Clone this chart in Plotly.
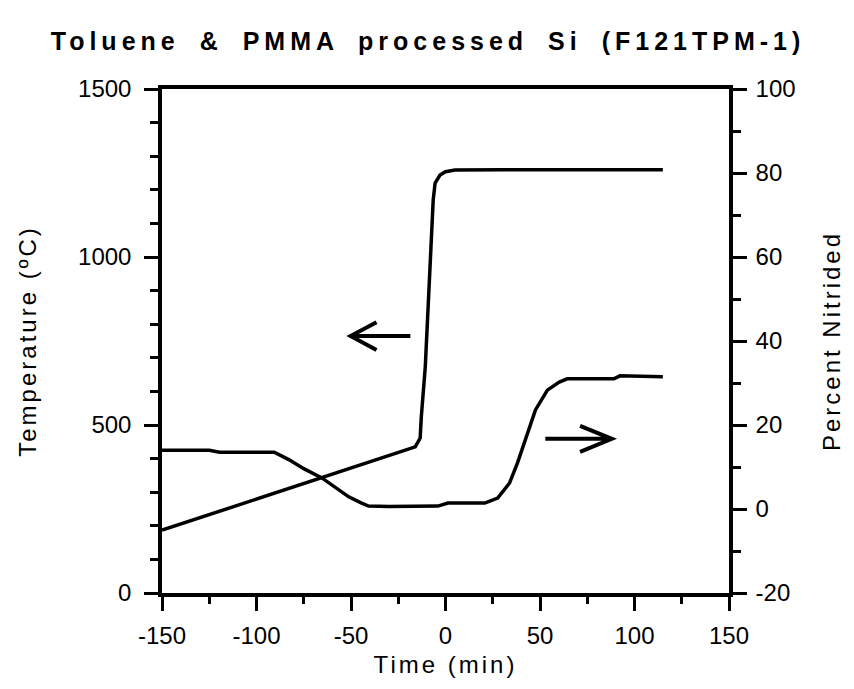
import plotly.graph_objects as go

# ---- data ----
time_temp = [-150, -130, -110, -90, -70, -50, -35, -25, -16, -13.4, -12.8, -10.7,
             -9.2, -7.6, -6.5, -5.5, -2.9, 0, 5, 30, 60, 90, 115]
temperature = [187, 224, 261, 298, 335, 372, 400, 420, 435, 461, 524, 673,
               872, 1071, 1170, 1220, 1244, 1254, 1259, 1260, 1260, 1260, 1260]

time_pct = [-150, -125, -119.5, -90.6, -82.7, -75, -65.4, -58, -51.2, -44.4, -40.7,
            -30, -10, -4, 1.3, 20.8, 27.6, 33.9, 38.1, 43.4, 47.6, 53.9, 60.2,
            64.4, 89.1, 92.3, 115]
percent_nitrided = [14.0, 14.0, 13.5, 13.5, 11.7, 9.6, 7.4, 5.0, 2.9, 1.4, 0.7,
                    0.6, 0.6, 0.7, 1.4, 1.4, 2.6, 6.2, 11.0, 18.1, 23.6, 28.3, 30.2,
                    31.0, 31.0, 31.7, 31.5]

x_ticks = [-150, -100, -50, 0, 50, 100, 150]
x_labels = ["-150", "-100", "-50", "0", "50", "100", "150"]
temp_ticks = [0, 500, 1000, 1500]
temp_labels = ["0", "500", "1000", "1500"]
pct_ticks = [-20, 0, 20, 40, 60, 80, 100]
pct_labels = ["-20", "0", "20", "40", "60", "80", "100"]

FONT = "Liberation Sans, Arial, sans-serif"
LW = 3.5

fig = go.Figure()
fig.add_trace(go.Scatter(x=time_temp, y=temperature, mode="lines",
                         line=dict(color="black", width=LW), yaxis="y",
                         name="Temperature", showlegend=False))
fig.add_trace(go.Scatter(x=time_pct, y=percent_nitrided, mode="lines",
                         line=dict(color="black", width=LW), yaxis="y2",
                         name="Percent Nitrided", showlegend=False))

# arrows (left -> temperature axis, right -> percent axis)
fig.add_shape(type="path", xref="x", yref="y",
              path="M -18.6,765 L -50.2,765 M -36.5,806 L -50.2,765 L -36.5,723",
              line=dict(color="black", width=4))
fig.add_shape(type="path", xref="x", yref="y2",
              path="M 52.8,16.7 L 88,16.7 M 71.2,19.8 L 88,16.7 L 71.2,13.6",
              line=dict(color="black", width=4))

axis_common = dict(showline=True, linecolor="black", linewidth=LW,
                   ticks="outside", tickcolor="black", tickwidth=3, ticklen=14,
                   showgrid=False, zeroline=False,
                   tickfont=dict(family=FONT, size=24, color="black"))

TFONT = dict(family=FONT, size=24, color="black")

fig.update_layout(
    width=854, height=689,
    margin=dict(l=162, r=121, t=89, b=96),
    paper_bgcolor="white", plot_bgcolor="white",
    title=dict(text="Toluene & PMMA processed Si (F121TPM-1)",
               x=428 / 854, xref="container", xanchor="center",
               y=1 - 41 / 689, yref="container", yanchor="middle",
               font=dict(family=FONT, size=25, color="black", weight="bold")),
    xaxis=dict(range=[-150, 150], tickvals=x_ticks, ticktext=x_labels, mirror=True,
               ticklabelstandoff=4,
               minor=dict(dtick=25, ticks="outside", ticklen=7, tickwidth=3,
                          tickcolor="black"),
               title=dict(text="Time (min)", standoff=10, font=TFONT),
               **axis_common),
    yaxis=dict(range=[0, 1500], tickvals=temp_ticks, ticktext=temp_labels,
               ticklabelstandoff=8,
               minor=dict(dtick=100, ticks="outside", ticklen=8, tickwidth=3,
                          tickcolor="black"),
               title=dict(text="Temperature (ºC)", standoff=36, font=TFONT),
               **axis_common),
    yaxis2=dict(range=[-20, 100], tickvals=pct_ticks, ticktext=pct_labels,
                overlaying="y", side="right", ticklabelstandoff=4,
                minor=dict(dtick=10, ticks="outside", ticklen=8, tickwidth=3,
                           tickcolor="black"),
                title=dict(text="Percent Nitrided", standoff=30, font=TFONT),
                **axis_common),
)

post = """
document.querySelectorAll('.gtitle').forEach(function(e){
  e.style.letterSpacing='5px'; e.style.wordSpacing='8px';
});
document.querySelectorAll('.xtitle, .ytitle, .y2title').forEach(function(e){
  e.style.letterSpacing='3px';
});
"""
fig.write_html("out.html", post_script=post)
